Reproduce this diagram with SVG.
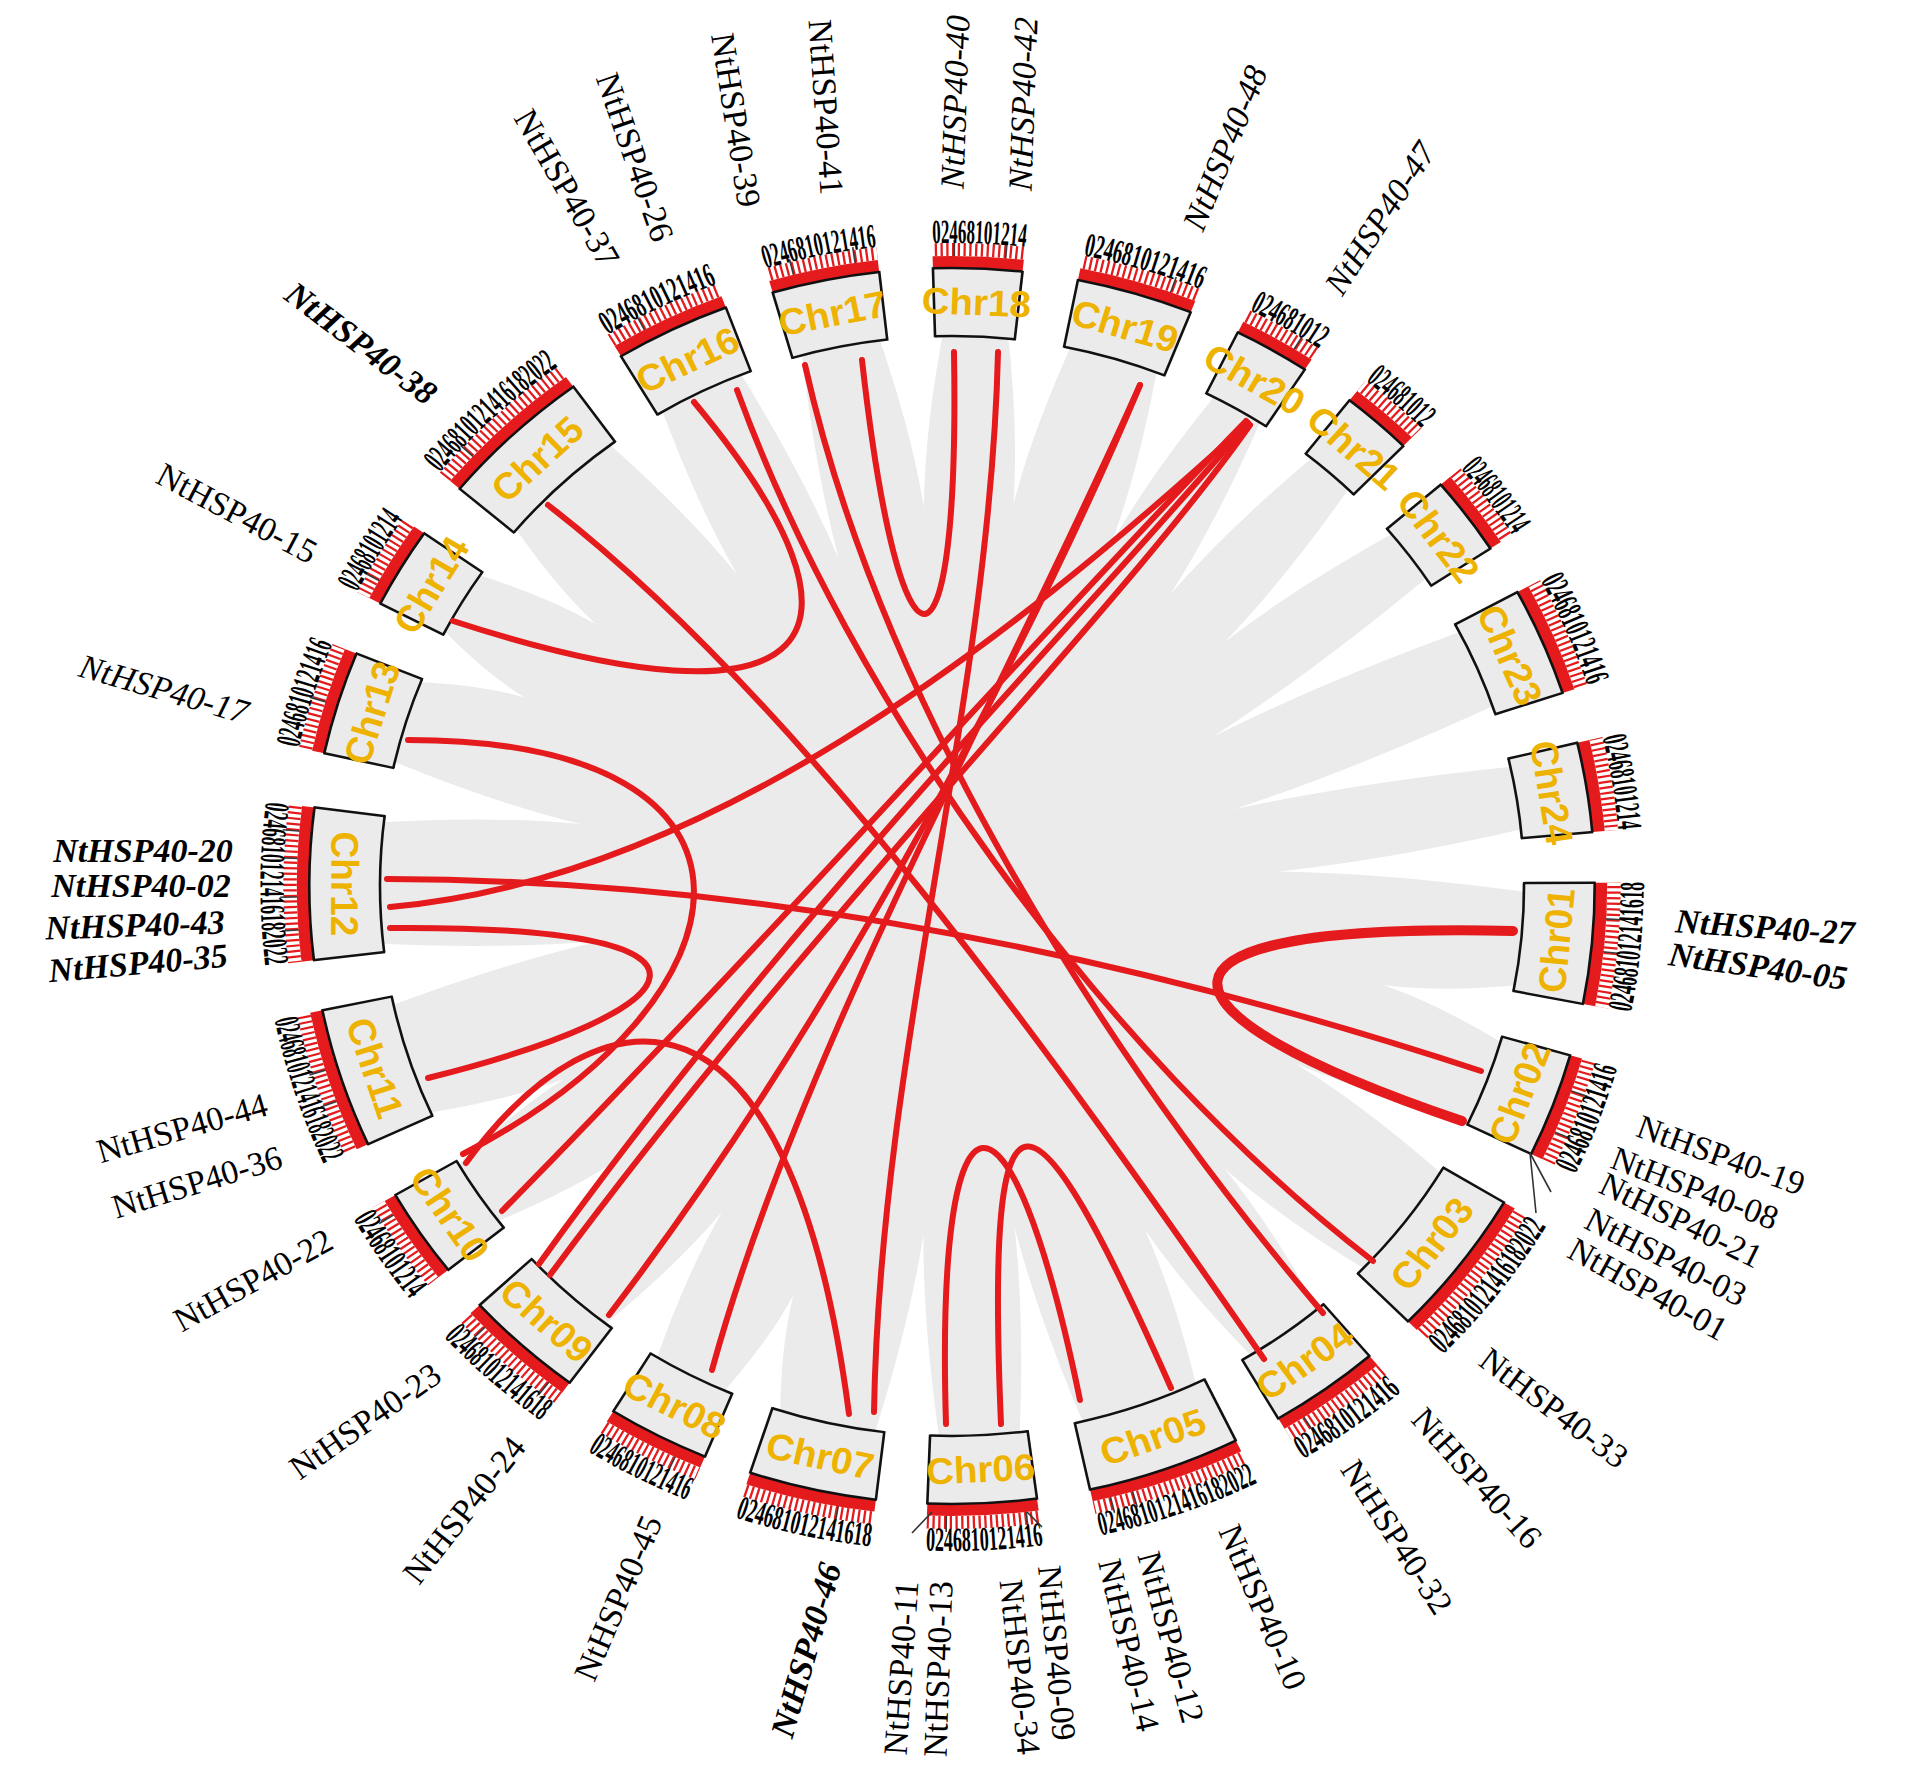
<svg xmlns="http://www.w3.org/2000/svg" width="1909" height="1780" viewBox="0 0 1909 1780">
<style>
.bx{fill:none;stroke:#ebebeb;stroke-width:68}
.ol{fill:none;stroke:#111;stroke-width:2.5}
.rb{fill:none;stroke:#E41A1C;stroke-width:12}
.wd{fill:#fff}
.tk{font-family:"Liberation Serif",serif;font-weight:bold;font-size:34px;fill:#000}
.chr{font-family:"Liberation Sans",Arial,sans-serif;font-weight:bold;font-size:37px;fill:#EEB200;text-anchor:middle;dominant-baseline:central}
.g{font-family:"Liberation Serif","Times New Roman",serif;font-size:34px;fill:#000;text-anchor:middle;dominant-baseline:central}
.it{font-style:italic}
.bd{font-weight:bold}
.lk{fill:none;stroke:#E41A1C;stroke-width:6;stroke-linecap:round}
.ld{fill:none;stroke:#333;stroke-width:1.6}
</style>
<defs>
<path id="rcw" d="M0,643A643,643 0 1,1 0,-643A643,643 0 1,1 0,643"/>
<path id="rccw" d="M0,-665A665,665 0 1,0 0,665A665,665 0 1,0 0,-665"/>
<line id="rl" x1="0" y1="-549" x2="0" y2="-619" stroke="#111" stroke-width="2.5"/>
<line id="gm" x1="0" y1="-619" x2="0" y2="-646" stroke="#3a3a3a" stroke-width="1.6"/>
</defs>
<rect width="1909" height="1780" fill="#fff"/>
<g transform="translate(952,886) scale(1.04,1)">
<g id="ribbons">
<circle r="551" fill="#ebebeb"/>
<path class="wd" transform="rotate(103.45)" d="M-34,-564Q-7,-488 0,-427Q7,-488 34,-564Z"/>
<path class="wd" transform="rotate(118.25)" d="M-34,-564Q-7,-460 0,-376Q7,-460 34,-564Z"/>
<path class="wd" transform="rotate(137.15)" d="M-34,-564Q-7,-465 0,-386Q7,-465 34,-564Z"/>
<path class="wd" transform="rotate(151.65)" d="M-34,-564Q-7,-468 0,-391Q7,-468 34,-564Z"/>
<path class="wd" transform="rotate(170)" d="M-34,-564Q-7,-444 0,-347Q7,-444 34,-564Z"/>
<path class="wd" transform="rotate(184.5)" d="M-34,-564Q-7,-445 0,-350Q7,-445 34,-564Z"/>
<path class="wd" transform="rotate(200.45)" d="M-34,-564Q-7,-493 0,-437Q7,-493 34,-564Z"/>
<path class="wd" transform="rotate(214.15)" d="M-34,-564Q-7,-470 0,-394Q7,-470 34,-564Z"/>
<path class="wd" transform="rotate(229.45)" d="M-34,-564Q-7,-482 0,-417Q7,-482 34,-564Z"/>
<path class="wd" transform="rotate(242.65)" d="M-34,-564Q-7,-484 0,-421Q7,-484 34,-564Z"/>
<path class="wd" transform="rotate(260.75)" d="M-34,-564Q-7,-440 0,-341Q7,-440 34,-564Z"/>
<path class="wd" transform="rotate(279.85)" d="M-34,-564Q-7,-453 0,-363Q7,-453 34,-564Z"/>
<path class="wd" transform="rotate(294.65)" d="M-34,-564Q-7,-502 0,-452Q7,-502 34,-564Z"/>
<path class="wd" transform="rotate(307.4)" d="M-34,-564Q-7,-490 0,-431Q7,-490 34,-564Z"/>
<path class="wd" transform="rotate(326.45)" d="M-34,-564Q-7,-459 0,-374Q7,-459 34,-564Z"/>
<path class="wd" transform="rotate(341.6)" d="M-34,-564Q-7,-443 0,-345Q7,-443 34,-564Z"/>
<path class="wd" transform="rotate(355.9)" d="M-34,-564Q-7,-462 0,-380Q7,-462 34,-564Z"/>
<path class="wd" transform="rotate(8.8)" d="M-34,-564Q-7,-465 0,-386Q7,-465 34,-564Z"/>
<path class="wd" transform="rotate(24.1)" d="M-34,-564Q-7,-460 0,-376Q7,-460 34,-564Z"/>
<path class="wd" transform="rotate(35.75)" d="M-34,-564Q-7,-451 0,-360Q7,-451 34,-564Z"/>
<path class="wd" transform="rotate(47.05)" d="M-34,-564Q-7,-450 0,-359Q7,-450 34,-564Z"/>
<path class="wd" transform="rotate(59.25)" d="M-34,-564Q-7,-414 0,-292Q7,-414 34,-564Z"/>
<path class="wd" transform="rotate(74.2)" d="M-34,-564Q-7,-409 0,-283Q7,-409 34,-564Z"/>
<path class="wd" transform="rotate(87.35)" d="M-34,-564Q-7,-426 0,-315Q7,-426 34,-564Z"/>
</g>
<g id="ticks">
<circle r="636.5" fill="none" stroke="#E41A1C" stroke-width="13" pathLength="360" stroke-dasharray="0.2 0.3"/>
<circle r="636.5" fill="none" stroke="#fff" stroke-width="17" pathLength="360" transform="rotate(-0.3)" stroke-dasharray="0 11.3 4.9 9.8 5.1 14 4.7 10 4.3 13.8 4.8 9.8 4.6 11.5 4.3 9.2 4.7 10.8 4.3 8.4 5.3 13.1 4.7 14.2 5.1 9.7 5.1 7.6 5.2 13.9 5.1 10.4 4.4 9.7 4.8 8 5 10.5 4.6 6.9 4.9 6.4 4.9 7.4 4.7 10.2 4.8 8.4 4.7"/>
</g>
<g id="genemarks">
<use href="#gm" transform="rotate(0.2)"/><use href="#gm" transform="rotate(4.7)"/>
<use href="#gm" transform="rotate(346)"/><use href="#gm" transform="rotate(351.5)"/>
<use href="#gm" transform="rotate(19.5)"/><use href="#gm" transform="rotate(31.5)"/>
<use href="#gm" transform="rotate(332)"/><use href="#gm" transform="rotate(313)"/>
<use href="#gm" transform="rotate(299)"/><use href="#gm" transform="rotate(287)"/>
<use href="#gm" transform="rotate(266)"/><use href="#gm" transform="rotate(269)"/>
<use href="#gm" transform="rotate(272.5)"/><use href="#gm" transform="rotate(275)"/>
<use href="#gm" transform="rotate(250)"/><use href="#gm" transform="rotate(253)"/>
<use href="#gm" transform="rotate(238.5)"/><use href="#gm" transform="rotate(218)"/>
<use href="#gm" transform="rotate(225.5)"/><use href="#gm" transform="rotate(205)"/>
<use href="#gm" transform="rotate(190)"/><use href="#gm" transform="rotate(173.5)"/>
<use href="#gm" transform="rotate(180.5)"/><use href="#gm" transform="rotate(164)"/>
<use href="#gm" transform="rotate(166)"/><use href="#gm" transform="rotate(147.5)"/>
<use href="#gm" transform="rotate(109)"/><use href="#gm" transform="rotate(113)"/>
<use href="#gm" transform="rotate(93)"/><use href="#gm" transform="rotate(96)"/>
</g>
<g id="chr01"><g transform="rotate(-0.3)"><circle class="bx" r="584" pathLength="360" stroke-dasharray="11.3 400"/><circle class="rb" r="624" pathLength="360" stroke-dasharray="11.3 400"/><circle class="ol" r="550" pathLength="360" stroke-dasharray="11.3 400"/><circle class="ol" r="618" pathLength="360" stroke-dasharray="11.3 400"/></g><use href="#rl" transform="rotate(89.7)"/><use href="#rl" transform="rotate(101)"/><text class="tk"><textPath href="#rccw" startOffset="3006.1" textLength="131.2" lengthAdjust="spacingAndGlyphs">024681012141618</textPath></text><text class="chr" transform="rotate(95.35) translate(0,-584) rotate(180)">Chr01</text></g>
<g id="chr02"><g transform="rotate(15.9)"><circle class="bx" r="584" pathLength="360" stroke-dasharray="9.8 400"/><circle class="rb" r="624" pathLength="360" stroke-dasharray="9.8 400"/><circle class="ol" r="550" pathLength="360" stroke-dasharray="9.8 400"/><circle class="ol" r="618" pathLength="360" stroke-dasharray="9.8 400"/></g><use href="#rl" transform="rotate(105.9)"/><use href="#rl" transform="rotate(115.7)"/><text class="tk"><textPath href="#rccw" startOffset="2835.4" textLength="113.7" lengthAdjust="spacingAndGlyphs">0246810121416</textPath></text><text class="chr" transform="rotate(110.8) translate(0,-584) rotate(180)">Chr02</text></g>
<g id="chr03"><g transform="rotate(30.8)"><circle class="bx" r="584" pathLength="360" stroke-dasharray="14 400"/><circle class="rb" r="624" pathLength="360" stroke-dasharray="14 400"/><circle class="ol" r="550" pathLength="360" stroke-dasharray="14 400"/><circle class="ol" r="618" pathLength="360" stroke-dasharray="14 400"/></g><use href="#rl" transform="rotate(120.8)"/><use href="#rl" transform="rotate(134.8)"/><text class="tk"><textPath href="#rccw" startOffset="2613.8" textLength="162.5" lengthAdjust="spacingAndGlyphs">0246810121416182022</textPath></text><text class="chr" transform="rotate(127.8) translate(0,-584) rotate(180)">Chr03</text></g>
<g id="chr04"><g transform="rotate(49.5)"><circle class="bx" r="584" pathLength="360" stroke-dasharray="10 400"/><circle class="rb" r="624" pathLength="360" stroke-dasharray="10 400"/><circle class="ol" r="550" pathLength="360" stroke-dasharray="10 400"/><circle class="ol" r="618" pathLength="360" stroke-dasharray="10 400"/></g><use href="#rl" transform="rotate(139.5)"/><use href="#rl" transform="rotate(149.5)"/><text class="tk"><textPath href="#rccw" startOffset="2443.1" textLength="116.1" lengthAdjust="spacingAndGlyphs">0246810121416</textPath></text><text class="chr" transform="rotate(144.5) translate(0,-584) rotate(180)">Chr04</text></g>
<g id="chr05"><g transform="rotate(63.8)"><circle class="bx" r="584" pathLength="360" stroke-dasharray="13.8 400"/><circle class="rb" r="624" pathLength="360" stroke-dasharray="13.8 400"/><circle class="ol" r="550" pathLength="360" stroke-dasharray="13.8 400"/><circle class="ol" r="618" pathLength="360" stroke-dasharray="13.8 400"/></g><use href="#rl" transform="rotate(153.8)"/><use href="#rl" transform="rotate(167.6)"/><text class="tk"><textPath href="#rccw" startOffset="2233.1" textLength="160.2" lengthAdjust="spacingAndGlyphs">0246810121416182022</textPath></text><text class="chr" transform="rotate(160.7) translate(0,-584) rotate(180)">Chr05</text></g>
<g id="chr06"><g transform="rotate(82.4)"><circle class="bx" r="584" pathLength="360" stroke-dasharray="9.8 400"/><circle class="rb" r="624" pathLength="360" stroke-dasharray="9.8 400"/><circle class="ol" r="550" pathLength="360" stroke-dasharray="9.8 400"/><circle class="ol" r="618" pathLength="360" stroke-dasharray="9.8 400"/></g><use href="#rl" transform="rotate(172.4)"/><use href="#rl" transform="rotate(182.2)"/><text class="tk"><textPath href="#rccw" startOffset="2063.6" textLength="113.7" lengthAdjust="spacingAndGlyphs">0246810121416</textPath></text><text class="chr" transform="rotate(177.3) translate(0,-584) rotate(180)">Chr06</text></g>
<g id="chr07"><g transform="rotate(96.8)"><circle class="bx" r="584" pathLength="360" stroke-dasharray="11.5 400"/><circle class="rb" r="624" pathLength="360" stroke-dasharray="11.5 400"/><circle class="ol" r="550" pathLength="360" stroke-dasharray="11.5 400"/><circle class="ol" r="618" pathLength="360" stroke-dasharray="11.5 400"/></g><use href="#rl" transform="rotate(186.8)"/><use href="#rl" transform="rotate(198.3)"/><text class="tk"><textPath href="#rccw" startOffset="1876.8" textLength="133.5" lengthAdjust="spacingAndGlyphs">024681012141618</textPath></text><text class="chr" transform="rotate(192.55) translate(0,-584) rotate(180)">Chr07</text></g>
<g id="chr08"><g transform="rotate(112.6)"><circle class="bx" r="584" pathLength="360" stroke-dasharray="9.2 400"/><circle class="rb" r="624" pathLength="360" stroke-dasharray="9.2 400"/><circle class="ol" r="550" pathLength="360" stroke-dasharray="9.2 400"/><circle class="ol" r="618" pathLength="360" stroke-dasharray="9.2 400"/></g><use href="#rl" transform="rotate(202.6)"/><use href="#rl" transform="rotate(211.8)"/><text class="tk"><textPath href="#rccw" startOffset="1720.1" textLength="106.8" lengthAdjust="spacingAndGlyphs">0246810121416</textPath></text><text class="chr" transform="rotate(207.2) translate(0,-584) rotate(180)">Chr08</text></g>
<g id="chr09"><g transform="rotate(126.5)"><circle class="bx" r="584" pathLength="360" stroke-dasharray="10.8 400"/><circle class="rb" r="624" pathLength="360" stroke-dasharray="10.8 400"/><circle class="ol" r="550" pathLength="360" stroke-dasharray="10.8 400"/><circle class="ol" r="618" pathLength="360" stroke-dasharray="10.8 400"/></g><use href="#rl" transform="rotate(216.5)"/><use href="#rl" transform="rotate(227.3)"/><text class="tk"><textPath href="#rccw" startOffset="1540.2" textLength="125.3" lengthAdjust="spacingAndGlyphs">024681012141618</textPath></text><text class="chr" transform="rotate(221.9) translate(0,-584) rotate(180)">Chr09</text></g>
<g id="chr10"><g transform="rotate(141.6)"><circle class="bx" r="584" pathLength="360" stroke-dasharray="8.4 400"/><circle class="rb" r="624" pathLength="360" stroke-dasharray="8.4 400"/><circle class="ol" r="550" pathLength="360" stroke-dasharray="8.4 400"/><circle class="ol" r="618" pathLength="360" stroke-dasharray="8.4 400"/></g><use href="#rl" transform="rotate(231.6)"/><use href="#rl" transform="rotate(240)"/><text class="tk"><textPath href="#rccw" startOffset="1392.8" textLength="97.5" lengthAdjust="spacingAndGlyphs">02468101214</textPath></text><text class="chr" transform="rotate(235.8) translate(0,-584) rotate(180)">Chr10</text></g>
<g id="chr11"><g transform="rotate(155.3)"><circle class="bx" r="584" pathLength="360" stroke-dasharray="13.1 400"/><circle class="rb" r="624" pathLength="360" stroke-dasharray="13.1 400"/><circle class="ol" r="550" pathLength="360" stroke-dasharray="13.1 400"/><circle class="ol" r="618" pathLength="360" stroke-dasharray="13.1 400"/></g><use href="#rl" transform="rotate(245.3)"/><use href="#rl" transform="rotate(258.4)"/><text class="tk"><textPath href="#rccw" startOffset="1179.2" textLength="152" lengthAdjust="spacingAndGlyphs">0246810121416182022</textPath></text><text class="chr" transform="rotate(251.85) translate(0,-584) rotate(180)">Chr11</text></g>
<g id="chr12"><g transform="rotate(173.1)"><circle class="bx" r="584" pathLength="360" stroke-dasharray="14.2 400"/><circle class="rb" r="624" pathLength="360" stroke-dasharray="14.2 400"/><circle class="ol" r="550" pathLength="360" stroke-dasharray="14.2 400"/><circle class="ol" r="618" pathLength="360" stroke-dasharray="14.2 400"/></g><use href="#rl" transform="rotate(263.1)"/><use href="#rl" transform="rotate(277.3)"/><text class="tk"><textPath href="#rccw" startOffset="959.8" textLength="164.8" lengthAdjust="spacingAndGlyphs">0246810121416182022</textPath></text><text class="chr" transform="rotate(270.2) translate(0,-584) rotate(180)">Chr12</text></g>
<g id="chr13"><g transform="rotate(192.4)"><circle class="bx" r="584" pathLength="360" stroke-dasharray="9.7 400"/><circle class="rb" r="624" pathLength="360" stroke-dasharray="9.7 400"/><circle class="ol" r="550" pathLength="360" stroke-dasharray="9.7 400"/><circle class="ol" r="618" pathLength="360" stroke-dasharray="9.7 400"/></g><use href="#rl" transform="rotate(282.4)"/><use href="#rl" transform="rotate(292.1)"/><text class="tk"><textPath href="#rcw" startOffset="1149.2" textLength="108.9" lengthAdjust="spacingAndGlyphs">0246810121416</textPath></text><text class="chr" transform="rotate(287.25) translate(0,-584)">Chr13</text></g>
<g id="chr14"><g transform="rotate(207.2)"><circle class="bx" r="584" pathLength="360" stroke-dasharray="7.6 400"/><circle class="rb" r="624" pathLength="360" stroke-dasharray="7.6 400"/><circle class="ol" r="550" pathLength="360" stroke-dasharray="7.6 400"/><circle class="ol" r="618" pathLength="360" stroke-dasharray="7.6 400"/></g><use href="#rl" transform="rotate(297.2)"/><use href="#rl" transform="rotate(304.8)"/><text class="tk"><textPath href="#rcw" startOffset="1315.3" textLength="85.3" lengthAdjust="spacingAndGlyphs">02468101214</textPath></text><text class="chr" transform="rotate(301) translate(0,-584)">Chr14</text></g>
<g id="chr15"><g transform="rotate(220)"><circle class="bx" r="584" pathLength="360" stroke-dasharray="13.9 400"/><circle class="rb" r="624" pathLength="360" stroke-dasharray="13.9 400"/><circle class="ol" r="550" pathLength="360" stroke-dasharray="13.9 400"/><circle class="ol" r="618" pathLength="360" stroke-dasharray="13.9 400"/></g><use href="#rl" transform="rotate(310)"/><use href="#rl" transform="rotate(323.9)"/><text class="tk"><textPath href="#rcw" startOffset="1458.9" textLength="156" lengthAdjust="spacingAndGlyphs">0246810121416182022</textPath></text><text class="chr" transform="rotate(316.95) translate(0,-584)">Chr15</text></g>
<g id="chr16"><g transform="rotate(239)"><circle class="bx" r="584" pathLength="360" stroke-dasharray="10.4 400"/><circle class="rb" r="624" pathLength="360" stroke-dasharray="10.4 400"/><circle class="ol" r="550" pathLength="360" stroke-dasharray="10.4 400"/><circle class="ol" r="618" pathLength="360" stroke-dasharray="10.4 400"/></g><use href="#rl" transform="rotate(329)"/><use href="#rl" transform="rotate(339.4)"/><text class="tk"><textPath href="#rcw" startOffset="1672.2" textLength="116.7" lengthAdjust="spacingAndGlyphs">0246810121416</textPath></text><text class="chr" transform="rotate(334.2) translate(0,-584)">Chr16</text></g>
<g id="chr17"><g transform="rotate(253.8)"><circle class="bx" r="584" pathLength="360" stroke-dasharray="9.7 400"/><circle class="rb" r="624" pathLength="360" stroke-dasharray="9.7 400"/><circle class="ol" r="550" pathLength="360" stroke-dasharray="9.7 400"/><circle class="ol" r="618" pathLength="360" stroke-dasharray="9.7 400"/></g><use href="#rl" transform="rotate(343.8)"/><use href="#rl" transform="rotate(353.5)"/><text class="tk"><textPath href="#rcw" startOffset="1838.2" textLength="108.9" lengthAdjust="spacingAndGlyphs">0246810121416</textPath></text><text class="chr" transform="rotate(348.65) translate(0,-584)">Chr17</text></g>
<g id="chr18"><g transform="rotate(268.3)"><circle class="bx" r="584" pathLength="360" stroke-dasharray="8 400"/><circle class="rb" r="624" pathLength="360" stroke-dasharray="8 400"/><circle class="ol" r="550" pathLength="360" stroke-dasharray="8 400"/><circle class="ol" r="618" pathLength="360" stroke-dasharray="8 400"/></g><use href="#rl" transform="rotate(358.3)"/><use href="#rl" transform="rotate(6.3)"/><text class="tk"><textPath href="#rcw" startOffset="2001" textLength="89.8" lengthAdjust="spacingAndGlyphs">02468101214</textPath></text><text class="chr" transform="rotate(2.3) translate(0,-584)">Chr18</text></g>
<g id="chr19"><g transform="rotate(281.3)"><circle class="bx" r="584" pathLength="360" stroke-dasharray="10.5 400"/><circle class="rb" r="624" pathLength="360" stroke-dasharray="10.5 400"/><circle class="ol" r="550" pathLength="360" stroke-dasharray="10.5 400"/><circle class="ol" r="618" pathLength="360" stroke-dasharray="10.5 400"/></g><use href="#rl" transform="rotate(11.3)"/><use href="#rl" transform="rotate(21.8)"/><text class="tk"><textPath href="#rcw" startOffset="2146.9" textLength="117.8" lengthAdjust="spacingAndGlyphs">0246810121416</textPath></text><text class="chr" transform="rotate(16.55) translate(0,-584)">Chr19</text></g>
<g id="chr20"><g transform="rotate(296.4)"><circle class="bx" r="584" pathLength="360" stroke-dasharray="6.9 400"/><circle class="rb" r="624" pathLength="360" stroke-dasharray="6.9 400"/><circle class="ol" r="550" pathLength="360" stroke-dasharray="6.9 400"/><circle class="ol" r="618" pathLength="360" stroke-dasharray="6.9 400"/></g><use href="#rl" transform="rotate(26.4)"/><use href="#rl" transform="rotate(33.3)"/><text class="tk"><textPath href="#rcw" startOffset="2316.3" textLength="77.4" lengthAdjust="spacingAndGlyphs">024681012</textPath></text><text class="chr" transform="rotate(29.85) translate(0,-584)">Chr20</text></g>
<g id="chr21"><g transform="rotate(308.2)"><circle class="bx" r="584" pathLength="360" stroke-dasharray="6.4 400"/><circle class="rb" r="624" pathLength="360" stroke-dasharray="6.4 400"/><circle class="ol" r="550" pathLength="360" stroke-dasharray="6.4 400"/><circle class="ol" r="618" pathLength="360" stroke-dasharray="6.4 400"/></g><use href="#rl" transform="rotate(38.2)"/><use href="#rl" transform="rotate(44.6)"/><text class="tk"><textPath href="#rcw" startOffset="2448.7" textLength="71.8" lengthAdjust="spacingAndGlyphs">024681012</textPath></text><text class="chr" transform="rotate(41.4) translate(0,-584)">Chr21</text></g>
<g id="chr22"><g transform="rotate(319.5)"><circle class="bx" r="584" pathLength="360" stroke-dasharray="7.4 400"/><circle class="rb" r="624" pathLength="360" stroke-dasharray="7.4 400"/><circle class="ol" r="550" pathLength="360" stroke-dasharray="7.4 400"/><circle class="ol" r="618" pathLength="360" stroke-dasharray="7.4 400"/></g><use href="#rl" transform="rotate(49.5)"/><use href="#rl" transform="rotate(56.9)"/><text class="tk"><textPath href="#rcw" startOffset="2575.6" textLength="83" lengthAdjust="spacingAndGlyphs">02468101214</textPath></text><text class="chr" transform="rotate(53.2) translate(0,-584)">Chr22</text></g>
<g id="chr23"><g transform="rotate(331.6)"><circle class="bx" r="584" pathLength="360" stroke-dasharray="10.2 400"/><circle class="rb" r="624" pathLength="360" stroke-dasharray="10.2 400"/><circle class="ol" r="550" pathLength="360" stroke-dasharray="10.2 400"/><circle class="ol" r="618" pathLength="360" stroke-dasharray="10.2 400"/></g><use href="#rl" transform="rotate(61.6)"/><use href="#rl" transform="rotate(71.8)"/><text class="tk"><textPath href="#rcw" startOffset="2711.4" textLength="114.5" lengthAdjust="spacingAndGlyphs">0246810121416</textPath></text><text class="chr" transform="rotate(66.7) translate(0,-584)">Chr23</text></g>
<g id="chr24"><g transform="rotate(346.6)"><circle class="bx" r="584" pathLength="360" stroke-dasharray="8.4 400"/><circle class="rb" r="624" pathLength="360" stroke-dasharray="8.4 400"/><circle class="ol" r="550" pathLength="360" stroke-dasharray="8.4 400"/><circle class="ol" r="618" pathLength="360" stroke-dasharray="8.4 400"/></g><use href="#rl" transform="rotate(76.6)"/><use href="#rl" transform="rotate(85)"/><text class="tk"><textPath href="#rcw" startOffset="2879.7" textLength="94.3" lengthAdjust="spacingAndGlyphs">02468101214</textPath></text><text class="chr" transform="rotate(80.8) translate(0,-584)">Chr24</text></g>
</g>
<g id="links">
<path class="lk" d="M862,360C900,700 960,700 954,352"/>
<path class="lk" style="stroke-width:10" d="M1513,931C1120,922 1135,1010 1462,1121"/>
<path class="lk" d="M946,1424C935,1060 1010,1060 1080,1400"/>
<path class="lk" d="M1001,1424C985,1050 1030,1070 1171,1388"/>
<path class="lk" d="M390,928C760,925 700,1010 428,1078"/>
<path class="lk" d="M453,621C820,740 892,640 694,402"/>
<path class="lk" d="M387,879Q900,880 1481,1071"/>
<path class="lk" d="M390,907C700,880 1000,650 1248,423"/>
<path class="lk" d="M548,505C800,700 1050,1050 1264,1359"/>
<path class="lk" d="M737,390C850,700 1100,1050 1373,1261"/>
<path class="lk" d="M805,365C880,700 1100,1050 1323,1313"/>
<path class="lk" d="M998,352C990,700 880,1050 874,1412"/>
<path class="lk" d="M1140,385C1000,700 800,1050 712,1370"/>
<path class="lk" d="M408,740C800,740 760,1000 463,1154"/>
<path class="lk" d="M466,1163C600,980 790,960 849,1414"/>
<path class="lk" d="M539,1264C800,900 1100,600 1248,423"/>
<path class="lk" d="M550,1275C820,910 1120,610 1250,425"/>
<path class="lk" d="M502,1211C760,950 1080,590 1246,421"/>
<path class="lk" d="M609,1315C850,1000 1050,600 1140,385"/>
</g>
<g id="leaders">
<path class="ld" d="M1530,1153L1551,1192M1530,1153L1536,1213M932,1512L912,1533M1027,1512L1042,1527"/>
</g>
<g id="genelabels">
<text class="g it bd" transform="translate(361,343) rotate(37)">NtHSP40-38</text>
<text class="g" transform="translate(237,513) rotate(28)">NtHSP40-15</text>
<text class="g it" transform="translate(164,689) rotate(16)">NtHSP40-17</text>
<text class="g it bd" transform="translate(143,850)">NtHSP40-20</text>
<text class="g it bd" transform="translate(141,885)">NtHSP40-02</text>
<text class="g it bd" transform="translate(135,925) rotate(-2)">NtHSP40-43</text>
<text class="g it bd" transform="translate(138,963) rotate(-5)">NtHSP40-35</text>
<text class="g" transform="translate(182,1128) rotate(-16)">NtHSP40-44</text>
<text class="g" transform="translate(197,1182) rotate(-17)">NtHSP40-36</text>
<text class="g" transform="translate(253,1280) rotate(-29)">NtHSP40-22</text>
<text class="g" transform="translate(365,1421) rotate(-35)">NtHSP40-23</text>
<text class="g" transform="translate(464,1510) rotate(-52)">NtHSP40-24</text>
<text class="g" transform="translate(618,1598) rotate(-67)">NtHSP40-45</text>
<text class="g it bd" transform="translate(806,1650) rotate(-74)">NtHSP40-46</text>
<text class="g" transform="translate(901,1668) rotate(-86)">NtHSP40-11</text>
<text class="g" transform="translate(938,1669) rotate(-88)">NtHSP40-13</text>
<text class="g" transform="translate(1020,1667) rotate(84)">NtHSP40-34</text>
<text class="g" transform="translate(1057,1653) rotate(85)">NtHSP40-09</text>
<text class="g" transform="translate(1129,1645) rotate(77)">NtHSP40-14</text>
<text class="g" transform="translate(1171,1637) rotate(75)">NtHSP40-12</text>
<text class="g" transform="translate(1263,1607) rotate(67)">NtHSP40-10</text>
<text class="g" transform="translate(1397,1537) rotate(57)">NtHSP40-32</text>
<text class="g" transform="translate(1477,1478) rotate(48)">NtHSP40-16</text>
<text class="g" transform="translate(1554,1408) rotate(37)">NtHSP40-33</text>
<text class="g it bd" transform="translate(1765,927) rotate(4)">NtHSP40-27</text>
<text class="g it bd" transform="translate(1758,966) rotate(8)">NtHSP40-05</text>
<text class="g" transform="translate(1721,1155) rotate(20)">NtHSP40-19</text>
<text class="g" transform="translate(1695,1188) rotate(21)">NtHSP40-08</text>
<text class="g" transform="translate(1681,1220) rotate(26)">NtHSP40-21</text>
<text class="g" transform="translate(1666,1257) rotate(27)">NtHSP40-03</text>
<text class="g" transform="translate(1648,1289) rotate(29)">NtHSP40-01</text>
<text class="g" transform="translate(567,188) rotate(60)">NtHSP40-37</text>
<text class="g" transform="translate(635,157) rotate(71)">NtHSP40-26</text>
<text class="g" transform="translate(736,120) rotate(81)">NtHSP40-39</text>
<text class="g" transform="translate(826,107) rotate(86)">NtHSP40-41</text>
<text class="g it" transform="translate(955,102) rotate(-88)">NtHSP40-40</text>
<text class="g it" transform="translate(1023,104) rotate(-88)">NtHSP40-42</text>
<text class="g it" transform="translate(1225,148) rotate(-68)">NtHSP40-48</text>
<text class="g it" transform="translate(1380,218) rotate(-57)">NtHSP40-47</text>
</g>
</svg>
